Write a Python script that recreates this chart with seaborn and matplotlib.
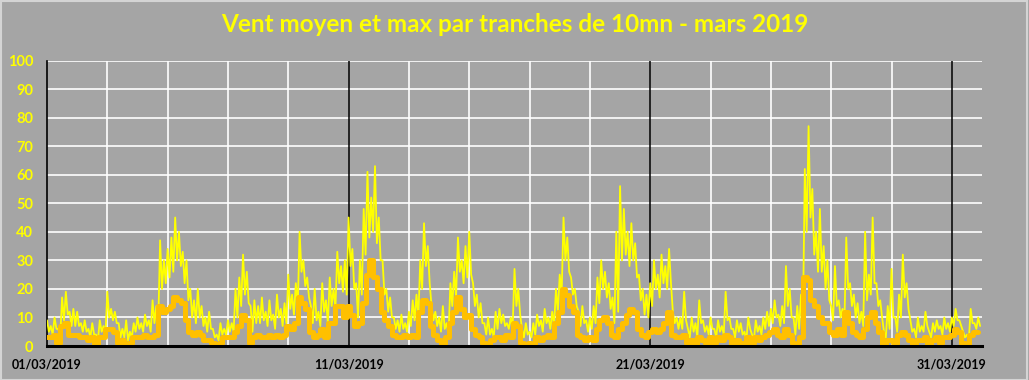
import numpy as np
import pandas as pd
import matplotlib
matplotlib.use("Agg")
import matplotlib.pyplot as plt
import seaborn as sns
from matplotlib.patches import Rectangle

# ---- data, 1 -> 31 March 2019 ----
# gust peaks, one per 3-hour slot (8 per day)
vent_max_haut = [
    9, 7, 10, 6, 17, 19, 12, 13,      # 01
    12, 8, 9, 6, 8, 4, 9, 7,          # 02
    19, 13, 12, 8, 6, 9, 5, 8,        # 03
    10, 8, 11, 9, 16, 14, 37, 30,     # 04
    34, 38, 45, 40, 33, 30, 20, 16,   # 05
    20, 14, 10, 12, 6, 4, 8, 6,       # 06
    9, 8, 20, 24, 32, 26, 14, 16,     # 07
    14, 17, 12, 16, 11, 18, 13, 15,   # 08
    25, 18, 22, 40, 30, 24, 14, 20,   # 09
    12, 22, 16, 24, 20, 33, 28, 30,   # 10
    45, 34, 22, 30, 48, 61, 52, 63,   # 11
    45, 30, 20, 17, 10, 9, 11, 8,     # 12
    12, 16, 18, 30, 43, 35, 14, 12,   # 13
    10, 14, 8, 22, 26, 38, 30, 35,    # 14
    40, 22, 18, 15, 8, 10, 6, 12,     # 15
    13, 11, 8, 10, 27, 20, 6, 8,      # 16
    5, 8, 11, 9, 13, 10, 12, 20,      # 17
    25, 45, 38, 24, 20, 12, 14, 9,    # 18
    10, 14, 24, 30, 26, 22, 17, 40,   # 19
    56, 48, 40, 43, 36, 25, 20, 18,   # 20
    22, 30, 25, 32, 28, 34, 12, 10,   # 21
    10, 19, 6, 10, 8, 16, 9, 7,       # 22
    10, 6, 9, 7, 19, 10, 6, 9,        # 23
    8, 5, 10, 4, 9, 7, 10, 12,        # 24
    13, 16, 11, 14, 28, 20, 10, 14,   # 25
    18, 62, 77, 55, 40, 48, 35, 30,   # 26
    14, 28, 16, 13, 38, 22, 18, 15,   # 27
    12, 40, 25, 45, 22, 16, 5, 14,    # 28
    27, 10, 18, 32, 22, 9, 6, 10,     # 29
    7, 12, 5, 8, 9, 7, 10, 8,         # 30
    10, 13, 9, 5, 4, 13, 8, 10,       # 31
]
# gust lows between the peaks (lower edge of the yellow band)
vent_max_bas = [
    5, 4, 6, 3, 9, 11, 7, 7,
    7, 5, 5, 3, 4, 2, 5, 4,
    10, 9, 8, 3, 3, 2, 3, 5,
    6, 5, 7, 5, 8, 7, 20, 22,
    24, 26, 30, 28, 22, 16, 10, 8,
    10, 7, 5, 6, 3, 2, 4, 4,
    5, 5, 10, 14, 18, 15, 5, 8,
    8, 9, 7, 9, 6, 10, 7, 8,
    13, 11, 13, 26, 21, 17, 8, 9,
    7, 12, 8, 14, 13, 22, 19, 18,
    28, 20, 10, 18, 32, 38, 40, 36,
    30, 18, 12, 10, 6, 5, 6, 5,
    7, 9, 10, 20, 28, 22, 9, 7,
    5, 6, 4, 14, 17, 26, 22, 24,
    25, 14, 10, 8, 4, 4, 3, 6,
    8, 7, 6, 6, 14, 11, 3, 4,
    3, 4, 7, 5, 8, 6, 7, 12,
    18, 30, 26, 18, 14, 7, 8, 5,
    6, 8, 15, 20, 17, 13, 8, 12,
    30, 32, 28, 30, 24, 16, 11, 10,
    14, 20, 17, 22, 20, 22, 8, 6,
    6, 9, 3, 5, 3, 8, 5, 4,
    6, 3, 5, 4, 9, 6, 3, 5,
    4, 2, 6, 2, 5, 4, 6, 7,
    8, 10, 7, 8, 14, 10, 4, 6,
    8, 40, 45, 32, 26, 26, 20, 16,
    9, 14, 10, 8, 20, 14, 10, 8,
    7, 16, 18, 22, 14, 10, 3, 6,
    10, 5, 10, 17, 13, 5, 3, 5,
    5, 7, 3, 5, 6, 4, 6, 5,
    7, 9, 7, 3, 2, 8, 6, 7,
]
# mean wind, one per 3-hour slot
vent_moyen = [
    3, 3, 4, 1, 7, 8, 4, 4,
    4, 3, 3, 2, 3, 0, 3, 3,
    6, 6, 5, 1, 2, 0, 1, 3,
    3, 3, 4, 3, 3, 4, 14, 12,
    13, 14, 17, 16, 15, 9, 5, 4,
    5, 4, 2, 2, 1, 0, 1, 3,
    3, 3, 5, 7, 11, 9, 1, 3,
    4, 3, 3, 4, 3, 4, 3, 4,
    7, 6, 8, 17, 15, 13, 5, 3,
    4, 6, 3, 8, 8, 14, 14, 10,
    14, 11, 7, 8, 15, 25, 30, 24,
    20, 12, 9, 7, 4, 3, 3, 4,
    3, 4, 3, 12, 16, 15, 7, 4,
    2, 0, 3, 8, 12, 17, 13, 10,
    11, 6, 4, 3, 1, 0, 2, 3,
    3, 2, 4, 3, 8, 7, 1, 0,
    1, 0, 3, 2, 3, 4, 3, 8,
    12, 20, 18, 14, 12, 4, 3, 2,
    3, 2, 6, 9, 10, 8, 4, 3,
    6, 8, 11, 13, 12, 6, 4, 3,
    5, 6, 5, 6, 8, 12, 4, 3,
    3, 4, 1, 2, 0, 3, 2, 1,
    3, 1, 3, 2, 4, 3, 0, 2,
    1, 0, 3, 1, 3, 2, 3, 4,
    5, 6, 4, 3, 6, 4, 1, 0,
    3, 24, 23, 16, 14, 10, 8, 8,
    5, 4, 6, 4, 12, 8, 5, 4,
    3, 6, 10, 12, 8, 5, 0, 2,
    2, 1, 4, 5, 4, 2, 0, 2,
    2, 3, 0, 2, 3, 1, 3, 3,
    4, 6, 5, 1, 0, 4, 5, 5,
]
x_tick_days = [0, 10, 20, 30]
x_tick_labels = ["01/03/2019", "11/03/2019", "21/03/2019", "31/03/2019"]
y_ticks = list(range(0, 101, 10))
title = "Vent moyen et max par tranches de 10mn - mars 2019"

# gust series: peak and low alternate within each 3-hour slot
vmax = np.column_stack([vent_max_haut, vent_max_bas]).ravel()
df_max = pd.DataFrame({"jour": np.arange(len(vmax)) / 16.0, "vent": vmax})
df_moy = pd.DataFrame({"jour": np.arange(len(vent_moyen)) / 8.0, "vent": vent_moyen})

# ---- style ----
BG = "#a5a5a5"
sns.set_style("white")
plt.rcParams["font.family"] = ["Lato", "DejaVu Sans"]

fig = plt.figure(figsize=(10.29, 3.80), dpi=100, facecolor=BG)
ax = fig.add_axes([47 / 1029, 34 / 380, 935 / 1029, 285.5 / 380])
ax.set_facecolor(BG)

sns.lineplot(data=df_max, x="jour", y="vent", ax=ax, color="#ffff00", lw=1.3,
             estimator=None, zorder=3)
sns.lineplot(data=df_moy, x="jour", y="vent", ax=ax, color="#ffc000", lw=3.6,
             estimator=None, zorder=4, drawstyle="steps-mid")

ax.set_xlim(0, 31)
ax.set_ylim(0, 100)
ax.set_yticks(y_ticks)
ax.set_xticks(x_tick_days)
ax.set_xticklabels(x_tick_labels)
ax.set_xticks(np.arange(2, 31, 2), minor=True)
ax.set_xlabel("")
ax.set_ylabel("")

ax.grid(False)
ax.yaxis.grid(True, color="white", lw=1.2, zorder=0)
ax.xaxis.grid(True, which="minor", color="white", lw=1.2, zorder=0)
for d in x_tick_days[1:]:
    ax.axvline(d, color="black", lw=1.1, zorder=2)

for s in ["top", "right"]:
    ax.spines[s].set_visible(False)
ax.spines["left"].set_color("black")
ax.spines["left"].set_linewidth(1.2)
ax.spines["bottom"].set_color("black")
ax.spines["bottom"].set_linewidth(2.2)
ax.spines["bottom"].set_zorder(5)

ax.tick_params(axis="both", which="both", length=0)
ax.tick_params(axis="y", pad=10, labelsize=10.5, labelcolor="#ffff00")
ax.tick_params(axis="x", pad=9, labelsize=9, labelcolor="black")
for t in ax.get_yticklabels():
    t.set_fontweight("bold")
for t in ax.get_xticklabels():
    t.set_fontweight("bold")

fig.text(0.5, 1 - 25 / 380, title, ha="center", va="center",
         color="#ffff00", fontsize=17.5, fontweight="bold")

fig.patches.append(Rectangle((0.0005, 0.001), 0.998, 0.997, transform=fig.transFigure,
                             fill=False, edgecolor="#d4d4d4", lw=1.5))

fig.savefig("out.png", dpi=100, facecolor=BG)
